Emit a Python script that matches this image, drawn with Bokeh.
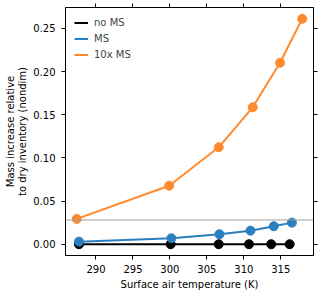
from bokeh.plotting import figure
from bokeh.models import Range1d, LinearAxis, FixedTicker, NumeralTickFormatter, Legend, LegendItem, Span, CustomJSTickFormatter
from bokeh.embed import file_html
from bokeh.resources import INLINE

# data
t_none = [287.7, 300.1, 306.6, 310.7, 313.7, 316.2]
m_none = [0.0, 0.0, 0.0, 0.0, 0.0, 0.0]
t_ms = [287.7, 300.2, 306.7, 310.9, 314.05, 316.5]
m_ms = [0.0030, 0.0069, 0.0116, 0.0157, 0.0208, 0.0250]
t_10ms = [287.4, 299.9, 306.6, 311.2, 314.9, 317.9]
m_10ms = [0.0293, 0.0678, 0.1123, 0.1586, 0.2102, 0.2611]
ref_level = 0.0281
x_ticks = [290, 295, 300, 305, 310, 315]
y_ticks = [0.0, 0.05, 0.10, 0.15, 0.20, 0.25]
labels = ["no MS", "MS", "10x MS"]

FONT = "DejaVu Sans"
BLUE = "#2a7fbf"
ORANGE = "#ff8a2e"

p = figure(width=320, height=295, output_backend="svg", toolbar_location=None,
           x_range=Range1d(285.875, 319.425), y_range=Range1d(-0.01306, 0.2742),
           x_axis_location=None, y_axis_location=None,
           min_border_top=7, min_border_right=7, min_border_bottom=40, min_border_left=65)
p.xgrid.visible = False
p.ygrid.visible = False
p.outline_line_color = "black"
p.outline_line_width = 1
p.background_fill_color = "white"
p.border_fill_color = "white"

blank = CustomJSTickFormatter(code="return '';")

bottom = LinearAxis(ticker=FixedTicker(ticks=x_ticks), axis_label="Surface air temperature (K)")
left = LinearAxis(ticker=FixedTicker(ticks=y_ticks), formatter=NumeralTickFormatter(format="0.00"),
                  axis_label="Mass increase relative\nto dry inventory (nondim)")
top = LinearAxis(ticker=FixedTicker(ticks=x_ticks), formatter=blank)
right = LinearAxis(ticker=FixedTicker(ticks=y_ticks), formatter=blank)
p.add_layout(bottom, "below")
p.add_layout(left, "left")
p.add_layout(top, "above")
p.add_layout(right, "right")

for ax in [bottom, left, top, right]:
    ax.minor_tick_line_color = None
    ax.major_tick_in = 0
    ax.major_tick_out = 4
    ax.major_tick_line_color = "black"
    ax.axis_line_color = "black"
    ax.major_label_text_font = FONT
    ax.major_label_text_font_size = "10px"
    ax.major_label_text_color = "black"
    ax.axis_label_text_font = FONT
    ax.axis_label_text_font_style = "normal"
    ax.axis_label_text_font_size = "10px"
    ax.axis_label_text_color = "black"
    ax.axis_label_text_line_height = 1.1
bottom.major_label_standoff = 5
bottom.axis_label_standoff = 3
left.major_label_standoff = 6
left.axis_label_standoff = 2
for ax in [top, right]:
    ax.major_label_standoff = 0
    ax.axis_label_standoff = 0
    ax.major_label_text_font_size = "1px"

p.add_layout(Span(location=ref_level, dimension="width", line_color="#a0a0a0", line_width=1))

l0 = p.line(t_none, m_none, line_color="black", line_width=2)
p.scatter(t_none, m_none, size=9, fill_color="black", line_color="black")
l1 = p.line(t_ms, m_ms, line_color=BLUE, line_width=2)
p.scatter(t_ms, m_ms, size=9, fill_color=BLUE, line_color=BLUE)
l2 = p.line(t_10ms, m_10ms, line_color=ORANGE, line_width=2)
p.scatter(t_10ms, m_10ms, size=9, fill_color=ORANGE, line_color=ORANGE)

legend = Legend(items=[LegendItem(label=labels[0], renderers=[l0]),
                       LegendItem(label=labels[1], renderers=[l1]),
                       LegendItem(label=labels[2], renderers=[l2])],
                location=(9, 193), border_line_color=None, background_fill_alpha=0,
                label_text_font=FONT, label_text_font_size="10px",
                glyph_width=14, glyph_height=15, label_height=15, label_standoff=6,
                spacing=1, padding=0, margin=0)
p.add_layout(legend)

open("out.html", "w").write(file_html(p, INLINE))
